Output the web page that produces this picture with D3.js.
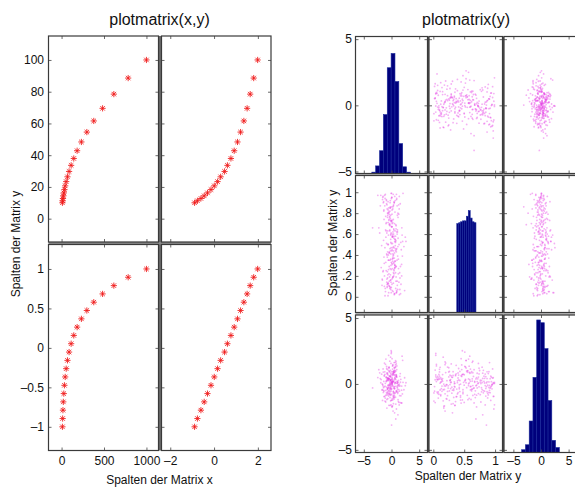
<!DOCTYPE html>
<html>
<head>
<meta charset="utf-8">
<script src="https://cdn.jsdelivr.net/npm/d3@7"></script>
<style>
  html, body { margin: 0; padding: 0; background: #fff; }
  svg { display: block; }
  text { font-family: "Liberation Sans", Arial, Helvetica, sans-serif; fill: #111; }
</style>
</head>
<body>
<svg id="chart" width="575" height="487"></svg>
<script>
// ---------- plotmatrix(x,y): two columns of x against two columns of y ----------
const xCol1 = [10, 12.74, 16.24, 20.69, 26.37, 33.6, 42.81, 54.56, 69.52, 88.59,
               112.88, 143.84, 183.3, 233.57, 297.64, 379.27, 483.29, 615.85, 784.76, 1000];
const xCol2 = [-0.89, -0.76, -0.6, -0.45, -0.3, -0.14, 0.01, 0.16, 0.3, 0.48,
               0.61, 0.77, 0.92, 1.07, 1.21, 1.36, 1.51, 1.65, 1.81, 1.99];
const yCol1 = [10, 11.29, 12.74, 14.38, 16.24, 18.33, 20.69, 23.36, 26.37, 29.76,
               33.6, 37.93, 42.81, 48.33, 54.56, 61.58, 69.52, 78.48, 88.59, 100];
const yCol2 = [-1, -0.895, -0.789, -0.684, -0.579, -0.474, -0.368, -0.263, -0.158, -0.053,
               0.053, 0.158, 0.263, 0.368, 0.474, 0.579, 0.684, 0.789, 0.895, 1];

const xyXTicks = [[0, 500, 1000], [-2, 0, 2]];
const xyYTicks = [[0, 20, 40, 60, 80, 100], [-1, -0.5, 0, 0.5, 1]];

// ---------- plotmatrix(y): three columns of y ----------
const yy1 = [
  0.54,-1.21,0.33,1.87,-0.42,0.07,-0.88,1.12,-0.15,0.69,-2.13,0.28,-0.61,0.95,1.43,-0.03,-1.36,0.47,-0.74,0.18,
  0.81,-0.29,-1.62,0.12,2.24,-0.51,0.63,-0.97,0.39,-0.08,1.05,-1.44,0.22,-0.35,0.76,-0.19,1.58,-0.67,0.04,-1.03,
  -0.45,0.91,-0.12,1.29,-0.83,0.26,-2.47,0.58,-0.31,1.71,0.09,-0.58,0.44,-1.17,0.67,-0.06,0.35,-0.92,1.96,-0.24,
  0.13,-1.52,0.72,-0.37,1.08,-0.71,0.19,2.61,-0.14,0.49,-1.09,0.84,-0.46,0.02,-1.78,1.34,-0.21,0.61,-0.55,0.31,
  -0.79,1.19,0.06,-0.33,0.88,-1.27,0.41,-0.02,1.63,-0.64,0.24,-0.96,0.53,-0.17,1.01,-2.02,0.37,-0.49,0.15,0.78,
  -1.39,0.29,-0.11,0.97,-0.62,1.47,-0.26,0.11,-0.85,0.66,-0.04,2.08,-1.13,0.42,-0.38,0.83,-0.69,0.17,-1.58,0.55,
  1.24,-0.09,-0.77,0.36,-0.23,1.82,-1.01,0.51,-0.43,0.05,0.92,-1.68,0.27,-0.53,1.16,-0.13,0.71,-0.89,0.21,-3.41,
  0.62,-0.19,1.39,-0.57,0.08,-1.24,0.86,-0.32,0.46,1.53,-0.73,0.14,-0.05,-1.47,0.99,0.23,-0.66,1.77,-0.28,0.38,
  -0.93,0.57,0.01,-1.86,0.74,-0.41,1.11,-0.16,0.32,-0.59,2.37,-0.81,0.48,-0.07,0.89,-1.31,0.16,-0.36,1.32,-0.7,
  0.25,-1.06,0.68,-0.22,1.51,-0.48,-0.01,0.79,-1.55,0.34,-0.87,1.03,-0.27,0.59,-0.11,1.91,-0.63,0.1,-1.19,0.45,
  -0.34,0.85,-1.71,0.2,-0.52,1.27,0.03,-0.76,0.65,-0.18,1.68,-1.05,0.4,-0.44,0.94,-0.1,-2.29,0.56,0.3,-0.6,
  1.15,-0.25,0.73,-1.35,0.17,-0.84,0.52,1.41,-0.39,0.08,-0.99,0.64,-0.2,2.01,-0.65,0.27,-1.42,0.82,-0.06,0.43,
  -0.56,1.06,-0.14,0.35,-1.93,0.71,-0.3,0.12,1.22,-0.78,0.5,-0.02,-1.16,0.9,-0.47,1.61,0.19,-0.72,0.38,-0.12,
  0.97,-1.48,0.26,-0.4,1.36,-0.09,0.6,-0.91,0.15,2.49,-0.54,0.33,-1.29,0.77,-0.23,0.04,-0.82,1.18,-0.35,0.58,
  -1.11,0.44,0.87,-0.61,0.1,-1.65,1.01,-0.15,0.62,-0.42,1.84,-0.68,0.21,-0.04,-1.37,0.73,-0.26,0.49,1.07,-0.8
];
const yy2 = [
  0.42,0.87,0.13,0.66,0.29,0.95,0.51,0.07,0.78,0.34,0.61,0.19,0.83,0.46,0.02,0.72,0.38,0.91,0.24,0.57,
  0.15,0.69,0.93,0.31,0.48,0.04,0.81,0.63,0.26,0.99,0.11,0.54,0.37,0.76,0.08,0.44,0.89,0.21,0.67,0.33,
  0.74,0.06,0.52,0.88,0.17,0.41,0.97,0.28,0.64,0.12,0.79,0.35,0.58,0.01,0.92,0.47,0.23,0.71,0.39,0.85,
  0.27,0.96,0.44,0.1,0.62,0.8,0.18,0.53,0.36,0.9,0.05,0.68,0.22,0.86,0.49,0.14,0.75,0.3,0.59,0.98,
  0.09,0.56,0.32,0.77,0.43,0.2,0.65,0.94,0.03,0.5,0.84,0.25,0.7,0.16,0.6,0.87,0.4,0.11,0.73,0.29,
  0.82,0.37,0.6,0.05,0.91,0.23,0.46,0.7,0.14,0.55,0.33,0.99,0.08,0.64,0.42,0.19,0.78,0.51,0.95,0.27,
  0.36,0.73,0.1,0.48,0.86,0.31,0.57,0.02,0.69,0.44,0.93,0.17,0.62,0.26,0.8,0.07,0.52,0.89,0.34,0.66,
  0.55,0.21,0.84,0.4,0.12,0.97,0.29,0.63,0.47,0.18,0.76,0.58,0.04,0.9,0.35,0.71,0.13,0.45,0.82,0.6,
  0.93,0.03,0.67,0.28,0.53,0.81,0.39,0.16,0.74,0.5,0.06,0.88,0.25,0.61,0.98,0.32,0.57,0.1,0.79,0.43,
  0.19,0.64,0.49,0.92,0.07,0.35,0.72,0.54,0.24,0.87,0.41,0.15,0.68,0.96,0.3,0.59,0.01,0.83,0.47,0.22,
  0.7,0.45,0.11,0.58,0.85,0.27,0.99,0.38,0.63,0.09,0.52,0.77,0.2,0.42,0.94,0.14,0.66,0.31,0.05,0.8,
  0.48,0.9,0.23,0.74,0.36,0.61,0.03,0.96,0.43,0.17,0.7,0.28,0.85,0.53,0.12,0.39,0.91,0.65,0.26,0.56,
  0.13,0.78,0.59,0.32,0.97,0.46,0.08,0.67,0.22,0.84,0.37,0.51,0.94,0.04,0.73,0.29,0.6,0.18,0.88,0.41,
  0.62,0.25,0.86,0.15,0.5,0.73,0.34,0.92,0.06,0.57,0.81,0.44,0.1,0.69,0.27,0.95,0.4,0.76,0.19,0.53,
  0.98,0.33,0.04,0.71,0.45,0.16,0.87,0.55,0.3,0.79,0.2,0.63,0.47,0.09,0.83,0.58,0.35,0.9,0.64,0.12
];
const yy3 = [
  -0.37,0.92,0.15,-1.44,0.61,-0.08,1.33,-0.72,0.27,-0.19,0.84,-2.06,0.43,1.09,-0.55,0.02,-0.96,1.62,-0.31,0.38,
  0.71,-0.13,-1.25,0.5,-0.44,2.17,-0.67,0.22,0.96,-1.58,0.06,-0.28,1.41,-0.81,0.34,-0.02,0.79,-1.12,0.13,-0.49,
  1.2,-0.62,0.29,-0.1,-1.83,0.67,0.48,-0.35,1.73,-0.9,0.11,-0.23,0.88,-1.3,0.4,2.52,-0.57,0.18,-0.76,0.55,
  -0.05,1.14,-1.01,0.36,-0.41,0.82,-1.66,0.09,0.63,-0.27,1.49,-0.52,0.25,-3.12,0.74,-0.16,1.02,-0.7,0.32,-0.94,
  0.46,-1.19,0.93,0.03,-0.58,1.58,-0.33,0.17,-1.41,0.69,-0.12,0.53,-0.85,2.03,-0.21,0.41,-0.66,1.26,0.07,-1.53,
  0.19,0.77,-0.45,1.37,-0.11,-0.89,0.57,-1.74,0.3,0.99,-0.38,0.12,-1.07,0.85,-0.26,1.68,-0.6,0.23,-0.04,0.66,
  -1.34,0.52,1.11,-0.74,0.08,-0.47,1.89,-0.2,0.38,-1.22,0.6,-0.01,0.94,-0.53,-2.34,0.31,1.3,-0.83,0.16,-0.3,
  0.88,-0.06,-1.59,0.45,0.14,-0.95,1.52,-0.4,0.7,-0.15,0.28,-1.1,2.31,-0.64,0.05,0.81,-0.36,-1.45,0.59,0.2,
  -0.24,1.05,-0.79,0.33,1.77,-0.5,0.1,-1.28,0.76,-0.09,0.47,-0.71,1.23,-0.18,-1.9,0.64,0.01,0.91,-0.43,0.26,
  1.46,-0.87,0.12,-0.32,0.58,-1.62,0.39,0.98,-0.14,-0.59,1.17,0.21,-1.03,0.44,-0.25,2.11,-0.68,0.07,0.73,-1.15,
  -0.1,0.62,-0.46,1.35,-0.92,0.27,0.04,-0.39,1.64,-0.78,0.35,-1.37,0.86,-0.07,0.51,-0.56,1.08,-2.19,0.18,0.42,
  -0.63,0.15,1.28,-0.22,0.69,-1.18,0.32,-0.01,0.95,-1.71,0.48,0.11,-0.34,1.79,-0.82,0.24,-0.48,0.57,-1.24,1.0,
  0.37,-0.29,0.81,-1.5,0.09,1.44,-0.61,0.2,-0.05,0.75,-0.97,2.42,-0.17,0.54,-0.73,0.13,1.13,-0.42,-1.06,0.3,
  -0.53,0.9,-0.2,0.41,-1.4,1.56,0.02,-0.66,0.34,-0.13,1.03,-0.88,0.6,-2.66,0.26,-0.37,0.83,0.14,-0.75,1.21,
  0.05,-1.02,0.68,-0.3,1.92,-0.44,0.16,-0.86,0.5,1.27,-0.16,0.39,-1.21,0.72,-0.55,0.08,-1.63,0.93,-0.12,0.47
];

// histogram counts on the diagonal (10 bins each) and the span the bins cover
const hist1Counts = [3, 17, 51, 132, 237, 269, 206, 67, 15, 3];
const hist2Counts = [96, 97, 98, 99, 99, 104, 110, 102, 98, 97];
const hist3Counts = [5, 14, 57, 136, 240, 235, 188, 94, 22, 9];
const hist1Span = [-3.55, 3.41];
const hist2Span = [0.38, 0.69];
const hist3Span = [-3.5, 3.32];

const yyXTicks = [[-5, 0, 5], [0, 0.5, 1], [-5, 0, 5]];
const yyYTicks = [[-5, 0, 5], [0, 0.2, 0.4, 0.6, 0.8, 1], [-5, 0, 5]];

// ---------------------------------------------------------------------------
const svg = d3.select("#chart");
const BORDER = "#3a3a3a";
const TICKCOL = "#444";
const FONT = 12;

const fmtMinus = v => String(v).replace("-", "\u2013");
const fmtDot = v => v === 0 ? "0" : (v === 1 ? "1" : String(v).replace(/^0\./, "."));

// soft dot used by the scatter panels
const defs = svg.append("defs");
defs.append("filter").attr("id", "soft").attr("x", "-5%").attr("y", "-5%").attr("width", "110%").attr("height", "110%")
  .append("feGaussianBlur").attr("stdDeviation", 0.45);

function drawPanelFrame(g, xs, ys, xt, yt) {
  const [x0, x1] = xs.range();
  const [y1, y0] = ys.range();
  // inward ticks on all four sides
  g.append("g").attr("transform", `translate(0,${y1})`)
    .call(d3.axisBottom(xs).tickValues(xt).tickSizeInner(-3).tickSizeOuter(0).tickFormat(""));
  g.append("g").attr("transform", `translate(0,${y0})`)
    .call(d3.axisTop(xs).tickValues(xt).tickSizeInner(-3).tickSizeOuter(0).tickFormat(""));
  g.append("g").attr("transform", `translate(${x0},0)`)
    .call(d3.axisLeft(ys).tickValues(yt).tickSizeInner(-3).tickSizeOuter(0).tickFormat(""));
  g.append("g").attr("transform", `translate(${x1},0)`)
    .call(d3.axisRight(ys).tickValues(yt).tickSizeInner(-3).tickSizeOuter(0).tickFormat(""));
  g.selectAll(".domain").remove();
  g.selectAll(".tick line").attr("stroke", TICKCOL).attr("stroke-width", 0.8);
  g.append("rect").attr("x", x0).attr("y", y0).attr("width", x1 - x0).attr("height", y1 - y0)
    .attr("fill", "none").attr("stroke", BORDER).attr("stroke-width", 1.2);
}

function xLabels(xs, yBase, ticks, fmt) {
  const g = svg.append("g").attr("transform", `translate(0,${yBase})`)
    .call(d3.axisBottom(xs).tickValues(ticks).tickSize(0).tickPadding(0).tickFormat(fmt));
  g.select(".domain").remove();
  g.selectAll("text").attr("font-size", FONT).attr("dy", "0.71em")
    .style("font-family", '"Liberation Sans", Arial, sans-serif').attr("fill", "#111");
}
function yLabels(ys, xRight, ticks, fmt) {
  const g = svg.append("g").attr("transform", `translate(${xRight},0)`)
    .call(d3.axisLeft(ys).tickValues(ticks).tickSize(0).tickPadding(0).tickFormat(fmt));
  g.select(".domain").remove();
  g.selectAll("text").attr("font-size", FONT)
    .style("font-family", '"Liberation Sans", Arial, sans-serif').attr("fill", "#111");
}

function starPath(cx, cy, r) {
  const d = r * 0.72;
  return `M${cx - r},${cy}H${cx + r}M${cx},${cy - r}V${cy + r}` +
         `M${cx - d},${cy - d}L${cx + d},${cy + d}M${cx - d},${cy + d}L${cx + d},${cy - d}`;
}

// ======================= plotmatrix(x,y) =======================
{
  const cols = [[48.5, 158.5], [161.5, 271]];
  const rows = [[36, 242], [244.5, 450.5]];
  const xScales = [
    d3.scaleLinear().domain([-154, 1142]).range(cols[0]),
    d3.scaleLinear().domain([-2.4, 2.6]).range(cols[1])
  ];
  const yScales = [
    d3.scaleLinear().domain([-14.7, 115.1]).range([rows[0][1], rows[0][0]]),
    d3.scaleLinear().domain([-1.3, 1.31]).range([rows[1][1], rows[1][0]])
  ];
  const xData = [xCol1, xCol2];
  const yData = [yCol1, yCol2];

  // separators between neighbouring panels
  svg.append("rect").attr("x", cols[0][1]).attr("y", rows[0][0])
    .attr("width", cols[1][0] - cols[0][1]).attr("height", rows[1][1] - rows[0][0]).attr("fill", "#6a6a6a");
  svg.append("rect").attr("x", cols[0][0]).attr("y", rows[0][1])
    .attr("width", cols[1][1] - cols[0][0]).attr("height", rows[1][0] - rows[0][1]).attr("fill", "#8a8a8a");

  for (let r = 0; r < 2; r++) {
    for (let c = 0; c < 2; c++) {
      const g = svg.append("g");
      const xs = xScales[c], ys = yScales[r];
      g.append("rect").attr("x", cols[c][0]).attr("y", rows[r][0])
        .attr("width", cols[c][1] - cols[c][0]).attr("height", rows[r][1] - rows[r][0]).attr("fill", "#fff");
      g.append("path")
        .attr("d", xData[c].map((v, i) => starPath(xs(v), ys(yData[r][i]), 3.1)).join(""))
        .attr("stroke", "#f01818").attr("stroke-width", 1).attr("fill", "none").attr("opacity", 0.85);
      drawPanelFrame(g, xs, ys, xyXTicks[c], xyYTicks[r]);
    }
  }
  for (let c = 0; c < 2; c++) xLabels(xScales[c], 456, xyXTicks[c], fmtMinus);
  for (let r = 0; r < 2; r++) yLabels(yScales[r], 44, xyYTicks[r], fmtMinus);

  svg.append("text").attr("x", 159.5).attr("y", 24.5).attr("text-anchor", "middle")
    .attr("font-size", 16).text("plotmatrix(x,y)");
  svg.append("text").attr("x", 159.5).attr("y", 484).attr("text-anchor", "middle")
    .attr("font-size", FONT).text("Spalten der Matrix x");
  svg.append("text").attr("transform", "translate(20,244) rotate(-90)").attr("text-anchor", "middle")
    .attr("font-size", FONT).text("Spalten der Matrix y");
}

// ======================= plotmatrix(y) =======================
{
  const cols = [[355.5, 427.5], [429, 502.5], [504, 578]];
  const rows = [[36.5, 173.5], [175.5, 312.5], [315, 452.5]];
  const xScales = [
    d3.scaleLinear().domain([-6.5, 6.5]).range(cols[0]),
    d3.scaleLinear().domain([-0.07, 1.12]).range(cols[1]),
    d3.scaleLinear().domain([-6.7, 6.7]).range(cols[2])
  ];
  const yScales = [
    d3.scaleLinear().domain([-5.15, 5.2]).range([rows[0][1], rows[0][0]]),
    d3.scaleLinear().domain([-0.15, 1.16]).range([rows[1][1], rows[1][0]]),
    d3.scaleLinear().domain([-5.2, 5.23]).range([rows[2][1], rows[2][0]])
  ];
  const data = [yy1, yy2, yy3];
  const hists = [
    { counts: hist1Counts, span: hist1Span, top: 307 },
    { counts: hist2Counts, span: hist2Span, top: 148 },
    { counts: hist3Counts, span: hist3Span, top: 249 }
  ];

  // separators
  for (let c = 0; c < 2; c++) {
    svg.append("rect").attr("x", cols[c][1]).attr("y", rows[0][0])
      .attr("width", cols[c + 1][0] - cols[c][1]).attr("height", rows[2][1] - rows[0][0]).attr("fill", "#555");
  }
  for (let r = 0; r < 2; r++) {
    svg.append("rect").attr("x", cols[0][0]).attr("y", rows[r][1])
      .attr("width", cols[2][1] - cols[0][0]).attr("height", rows[r + 1][0] - rows[r][1]).attr("fill", "#b8b8b8");
  }

  for (let r = 0; r < 3; r++) {
    for (let c = 0; c < 3; c++) {
      const g = svg.append("g");
      const xs = xScales[c], ys = yScales[r];
      g.append("rect").attr("x", cols[c][0]).attr("y", rows[r][0])
        .attr("width", cols[c][1] - cols[c][0]).attr("height", rows[r][1] - rows[r][0]).attr("fill", "#fff");
      if (r === c) {
        const h = hists[c];
        const edges = d3.range(h.counts.length + 1)
          .map(i => h.span[0] + (h.span[1] - h.span[0]) * i / h.counts.length);
        const hy = d3.scaleLinear().domain([0, h.top]).range([rows[r][1], rows[r][0]]);
        g.selectAll("rect.bar").data(h.counts).join("rect").attr("class", "bar")
          .attr("x", (d, i) => xs(edges[i]))
          .attr("width", (d, i) => xs(edges[i + 1]) - xs(edges[i]))
          .attr("y", d => hy(d))
          .attr("height", d => hy(0) - hy(d))
          .attr("fill", "#00007c").attr("stroke", "#18289a").attr("stroke-width", 0.6);
      } else {
        g.append("g").attr("filter", "url(#soft)")
          .selectAll("circle").data(data[c]).join("circle")
          .attr("cx", d => xs(d))
          .attr("cy", (d, i) => ys(data[r][i]))
          .attr("r", 0.9)
          .attr("fill", "#e444e4").attr("opacity", 0.42);
      }
      drawPanelFrame(g, xs, ys, yyXTicks[c], yyYTicks[r]);
    }
  }
  for (let c = 0; c < 3; c++) xLabels(xScales[c], 456, yyXTicks[c], fmtMinus);
  yLabels(yScales[0], 352, yyYTicks[0], fmtMinus);
  yLabels(yScales[1], 352, yyYTicks[1], fmtDot);
  yLabels(yScales[2], 352, yyYTicks[2], fmtMinus);

  svg.append("text").attr("x", 466).attr("y", 24.5).attr("text-anchor", "middle")
    .attr("font-size", 16).text("plotmatrix(y)");
  svg.append("text").attr("x", 468).attr("y", 480).attr("text-anchor", "middle")
    .attr("font-size", FONT).text("Spalten der Matrix y");
  svg.append("text").attr("transform", "translate(337,243) rotate(-90)").attr("text-anchor", "middle")
    .attr("font-size", FONT).text("Spalten der Matrix y");
}
</script>
</body>
</html>
